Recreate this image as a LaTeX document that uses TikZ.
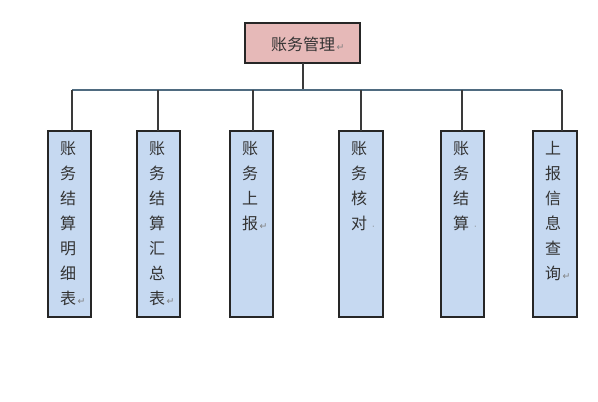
\documentclass[tikz,border=0pt]{standalone}
\usepackage{fontspec}
\newfontfamily\cjk{Noto Sans CJK SC}
\newfontfamily\dvs{DejaVu Sans}
\definecolor{pinkfill}{HTML}{E6B9B8}
\definecolor{bluefill}{HTML}{C6D9F1}
\definecolor{hline}{HTML}{4F6B80}
\definecolor{vline}{HTML}{3A3A3A}
\definecolor{txt}{HTML}{333333}
\newcommand{\pmark}{\rlap{\textcolor{gray}{\dvs\fontsize{7}{7}\selectfont\,↵}}}
\newcommand{\pdot}{\rlap{\textcolor{gray}{\dvs\fontsize{6}{6}\selectfont\ \ ·}}}
\begin{document}
\begin{tikzpicture}[x=0.75pt,y=-0.75pt,
  topbox/.style={draw=black!85,fill=pinkfill,line width=0.8pt},
  subbox/.style={draw=black!85,fill=bluefill,line width=0.8pt},
  vtext/.style={anchor=north,inner sep=0pt,align=center,text=txt,font=\cjk\fontsize{12}{18.75}\selectfont},
  conn/.style={draw=vline,line width=0.8pt},
  hconn/.style={draw=hline,line width=0.8pt}]
\useasboundingbox (0,0) rectangle (598,402);
% top box
\draw[topbox] (245,23) rectangle (360,63);
\node[inner sep=0pt,text=txt,font=\cjk\fontsize{12}{14}\selectfont] (top) at (303,44) {账务管理\pmark};
\coordinate (topb) at (303,63);
\coordinate (bus) at (303,90);
% sub boxes
\draw[subbox] (48,131) rectangle (91,317);
\draw[subbox] (137,131) rectangle (180,317);
\draw[subbox] (230,131) rectangle (273,317);
\draw[subbox] (339,131) rectangle (383,317);
\draw[subbox] (441,131) rectangle (484,317);
\draw[subbox] (533,131) rectangle (577,317);
\node[vtext] (b1) at (68,141) {账\\务\\结\\算\\明\\细\\表\pmark};
\node[vtext] (b2) at (157,141) {账\\务\\结\\算\\汇\\总\\表\pmark};
\node[vtext] (b3) at (250,141) {账\\务\\上\\报\pmark};
\node[vtext] (b4) at (359,141) {账\\务\\核\\对\pdot};
\node[vtext] (b5) at (461,141) {账\\务\\结\\算\pdot};
\node[vtext] (b6) at (553,141) {上\\报\\信\\息\\查\\询\pmark};
% connectors
\coordinate (t1) at (72,131); \coordinate (c1) at (72,90);
\coordinate (t2) at (158,131); \coordinate (c2) at (158,90);
\coordinate (t3) at (253,131); \coordinate (c3) at (253,90);
\coordinate (t4) at (361,131); \coordinate (c4) at (361,90);
\coordinate (t5) at (462,131); \coordinate (c5) at (462,90);
\coordinate (t6) at (562,131); \coordinate (c6) at (562,90);
\draw[conn] (topb) -- (bus);
\draw[hconn] (c1) -- (c6);
\foreach \i in {1,...,6} {\draw[conn] (c\i) -- (t\i);}
\end{tikzpicture}
\end{document}
